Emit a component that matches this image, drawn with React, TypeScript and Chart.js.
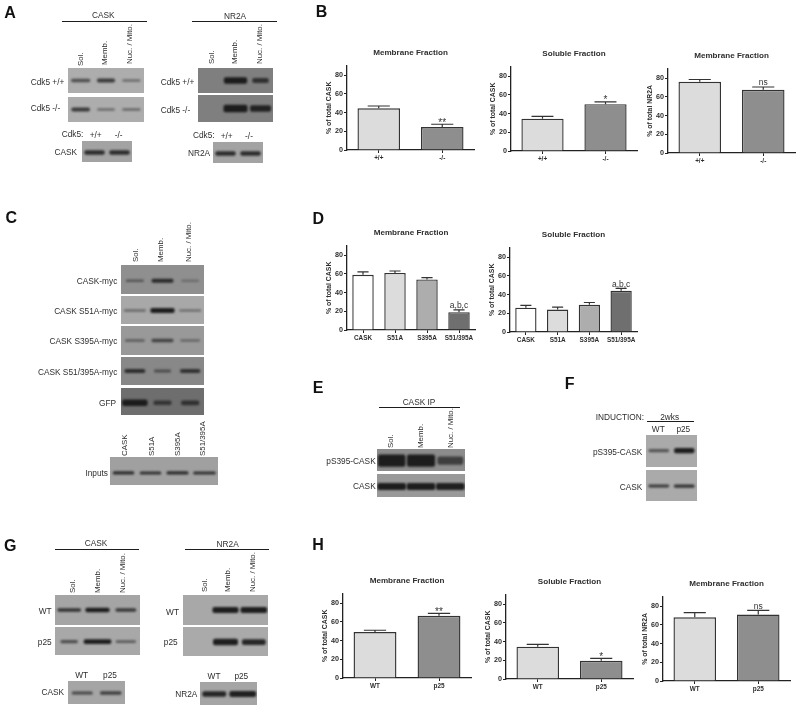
import React, { useEffect, useRef } from "react";
import { Chart, registerables } from "chart.js";

Chart.register(...registerables);

const FONT = '"Liberation Sans", Arial, sans-serif';
const INK = "#2e2e2e";

// ---------- bar chart data ----------
const genotypes = ["+/+", "-/-"];
const inductions = ["WT", "p25"];
const mutants = ["CASK", "S51A", "S395A", "S51/395A"];

const bMemCask = [44.5, 24.5];
const bMemCaskTop = [47, 27.5];
const bMemCaskSig = ["", "**"];
const bSolCask = [34.5, 50];
const bSolCaskTop = [37, 52.5];
const bSolCaskSig = ["", "*"];
const bMemNr = [76, 67.5];
const bMemNrTop = [78.5, 70.5];
const bMemNrSig = ["", "ns"];

const dMem = [59, 61, 54, 19];
const dMemTop = [62, 63, 56, 21.5];
const dMemSig = ["", "", "", "a,b,c"];
const dSol = [26, 24, 29, 44];
const dSolTop = [28.5, 26.5, 31.5, 46.5];
const dSolSig = ["", "", "", "a,b,c"];

const hMemCask = [49, 66.5];
const hMemCaskTop = [51, 69];
const hMemCaskSig = ["", "**"];
const hSolCask = [34.5, 19.5];
const hSolCaskTop = [37, 22];
const hSolCaskSig = ["", "*"];
const hMemNr = [68, 71];
const hMemNrTop = [73, 75.5];
const hMemNrSig = ["", "ns"];

const twoFill = ["#dcdcdc", "#8e8e8e"];
const fourFill = ["#ffffff", "#dcdcdc", "#adadad", "#6f6f6f"];

const panels = [
  { title: "Membrane Fraction", yLabel: "% of total CASK", cats: genotypes, vals: bMemCask, tops: bMemCaskTop, sig: bMemCaskSig, fill: twoFill, x: 347.3, r: 474, top: 65.6, y0: 150 },
  { title: "Soluble Fraction", yLabel: "% of total CASK", cats: genotypes, vals: bSolCask, tops: bSolCaskTop, sig: bSolCaskSig, fill: twoFill, x: 511.3, r: 637.7, top: 67, y0: 151.3 },
  { title: "Membrane Fraction", yLabel: "% of total NR2A", cats: genotypes, vals: bMemNr, tops: bMemNrTop, sig: bMemNrSig, fill: twoFill, x: 668.3, r: 795, top: 68.3, y0: 152.7 },
  { title: "Membrane Fraction", yLabel: "% of total CASK", cats: mutants, vals: dMem, tops: dMemTop, sig: dMemSig, fill: fourFill, x: 347.3, r: 475, top: 246, y0: 330.7 },
  { title: "Soluble Fraction", yLabel: "% of total CASK", cats: mutants, vals: dSol, tops: dSolTop, sig: dSolSig, fill: fourFill, x: 510, r: 637.3, top: 247.3, y0: 332 },
  { title: "Membrane Fraction", yLabel: "% of total CASK", cats: inductions, vals: hMemCask, tops: hMemCaskTop, sig: hMemCaskSig, fill: twoFill, x: 343.3, r: 471, top: 593.6, y0: 678 },
  { title: "Soluble Fraction", yLabel: "% of total CASK", cats: inductions, vals: hSolCask, tops: hSolCaskTop, sig: hSolCaskSig, fill: twoFill, x: 506, r: 633.3, top: 595, y0: 679.3 },
  { title: "Membrane Fraction", yLabel: "% of total NR2A", cats: inductions, vals: hMemNr, tops: hMemNrTop, sig: hMemNrSig, fill: twoFill, x: 663.3, r: 790.3, top: 596.6, y0: 681 },
];

// ---------- western blot band intensities (0 = no band) ----------
const aCaskWt = [0.55, 0.7, 0.35];
const aCaskKo = [0.7, 0.35, 0.38];
const aNrWt = [0, 1, 0.7];
const aNrKo = [0, 1, 0.85];
const aCaskInput = [0.8, 0.8];
const aNrInput = [0.8, 0.8];
const cMyc = [0.4, 0.8, 0.25];
const cS51A = [0.35, 0.95, 0.3];
const cS395A = [0.4, 0.6, 0.3];
const cS51395A = [0.75, 0.45, 0.7];
const cGfp = [1, 0.6, 0.65];
const cInputs = [0.8, 0.75, 0.8, 0.75];
const ePhospho = [1, 1, 0.6];
const eCask = [0.95, 0.95, 0.9];
const fPhospho = [0.5, 0.95];
const fCask = [0.7, 0.75];
const gCaskWt = [0.75, 0.95, 0.7];
const gCaskP25 = [0.55, 1, 0.45];
const gNrWt = [0, 0.95, 0.95];
const gNrP25 = [0, 1, 0.85];
const gCaskInput = [0.6, 0.65];
const gNrInput = [0.85, 0.9];

const blots = [
  { v: aCaskWt, x: 68.3, y: 68, w: 75.7, h: 25, bg: "#adadad", gain: 0.8, span: [0.76, 0.72, 0.72], dy: 0 },
  { v: aCaskKo, x: 68.3, y: 96.7, w: 75.7, h: 24.6, bg: "#adadad", gain: 0.8, span: [0.74, 0.7, 0.72], dy: 0 },
  { v: aNrWt, x: 197.7, y: 68, w: 75.3, h: 25, bg: "#7f7f7f", gain: 1.05, span: [0, 0.93, 0.66], dy: 0 },
  { v: aNrKo, x: 197.7, y: 95, w: 75.3, h: 26.7, bg: "#7f7f7f", gain: 1.15, span: [0, 0.96, 0.84], dy: 0 },
  { v: aCaskInput, x: 81.7, y: 140.7, w: 50.3, h: 21.3, bg: "#a3a3a3", gain: 0.85, span: [0.82, 0.82], dy: 1 },
  { v: aNrInput, x: 213, y: 141.7, w: 50.3, h: 20.6, bg: "#a3a3a3", gain: 0.85, span: [0.82, 0.82], dy: 1 },
  { v: cMyc, x: 120.7, y: 265, w: 82.6, h: 28.7, bg: "#8f8f8f", gain: 0.75, span: [0.66, 0.8, 0.64], dy: 1.3 },
  { v: cS51A, x: 120.7, y: 296, w: 82.6, h: 28, bg: "#a8a8a8", gain: 0.85, span: [0.8, 0.88, 0.8], dy: 0.5 },
  { v: cS395A, x: 120.7, y: 325.7, w: 82.6, h: 29.3, bg: "#999999", gain: 0.8, span: [0.72, 0.8, 0.72], dy: 0 },
  { v: cS51395A, x: 120.7, y: 357, w: 82.6, h: 28.3, bg: "#888888", gain: 0.8, span: [0.76, 0.62, 0.74], dy: 0 },
  { v: cGfp, x: 120.7, y: 388, w: 82.6, h: 26.7, bg: "#6e6e6e", gain: 1, span: [0.92, 0.66, 0.66], dy: 1.3 },
  { v: cInputs, x: 110, y: 457.3, w: 108.3, h: 28.4, bg: "#a0a0a0", gain: 0.6, span: [0.8, 0.8, 0.82, 0.84], dy: 2 },
  { v: ePhospho, x: 377.3, y: 449.3, w: 87.7, h: 22.4, bg: "#8c8c8c", gain: 1.95, span: [0.94, 0.96, 0.88], dy: 0.6 },
  { v: eCask, x: 377.3, y: 474, w: 87.7, h: 22.7, bg: "#999999", gain: 1.15, span: [0.98, 0.98, 0.98], dy: 1 },
  { v: fPhospho, x: 646, y: 435, w: 50.7, h: 32, bg: "#aaaaaa", gain: 0.85, span: [0.82, 0.8], dy: -0.4 },
  { v: fCask, x: 646, y: 469.7, w: 50.7, h: 30.6, bg: "#aaaaaa", gain: 0.6, span: [0.82, 0.82], dy: 0.6 },
  { v: gCaskWt, x: 55.3, y: 594.7, w: 85, h: 29.6, bg: "#a5a5a5", gain: 0.7, span: [0.84, 0.86, 0.74], dy: 0 },
  { v: gCaskP25, x: 55.3, y: 627.3, w: 85, h: 28.4, bg: "#a8a8a8", gain: 0.75, span: [0.62, 0.98, 0.72], dy: 0.6 },
  { v: gNrWt, x: 182.7, y: 594.7, w: 84.6, h: 29.6, bg: "#a8a8a8", gain: 0.95, span: [0, 0.92, 0.94], dy: 0 },
  { v: gNrP25, x: 182.7, y: 627.3, w: 84.6, h: 28.7, bg: "#aaaaaa", gain: 1, span: [0, 0.88, 0.84], dy: 0.6 },
  { v: gCaskInput, x: 68.3, y: 681.3, w: 56.7, h: 22.7, bg: "#a5a5a5", gain: 0.7, span: [0.74, 0.76], dy: 0.5 },
  { v: gNrInput, x: 200, y: 681.7, w: 57, h: 23, bg: "#a5a5a5", gain: 1, span: [0.84, 0.94], dy: 0.5 },
];

// ---------- text ----------
const panelLetters: [string, number, number][] = [
  ["A", 10, 13], ["B", 321.5, 12], ["C", 11.3, 218], ["D", 318.3, 219],
  ["E", 318, 388], ["F", 569.7, 383.5], ["G", 10.3, 545.5], ["H", 318, 544.5],
];
const centered: [string, number, number][] = [
  ["CASK", 103.3, 15], ["NR2A", 235, 16],
  ["+/+", 95.7, 134.5], ["-/-", 118.7, 134.5], ["+/+", 226.7, 135.8], ["-/-", 249, 135.5],
  ["CASK IP", 419, 402], ["2wks", 669.7, 417], ["WT", 658.3, 429], ["p25", 683.3, 429],
  ["CASK", 96, 543], ["NR2A", 227.7, 543.7],
  ["WT", 81.7, 675.3], ["p25", 110, 675.3], ["WT", 214, 676.3], ["p25", 241.3, 676.3],
];
const leftAligned: [string, number, number][] = [
  ["Cdk5 +/+", 30.7, 82], ["Cdk5 -/-", 30.7, 108.3], ["Cdk5 +/+", 160.7, 82], ["Cdk5 -/-", 160.7, 109.7],
  ["Cdk5:", 61.7, 134], ["Cdk5:", 193, 135.3], ["CASK", 54.5, 152], ["NR2A", 188, 152.6],
  ["INDUCTION:", 595.7, 417],
];
const rightAligned: [string, number, number][] = [
  ["CASK-myc", 117.3, 280.7], ["CASK S51A-myc", 117.3, 310.7], ["CASK S395A-myc", 117.3, 341],
  ["CASK S51/395A-myc", 117.3, 372.3], ["GFP", 116, 402.7], ["Inputs", 108, 472.7],
  ["pS395-CASK", 375.7, 461], ["CASK", 375.7, 486.3],
  ["pS395-CASK", 642.3, 451.7], ["CASK", 642.3, 487],
  ["WT", 51.7, 610.7], ["p25", 51.7, 641.7], ["WT", 179, 612], ["p25", 177.7, 641.7],
  ["CASK", 64, 692.3], ["NR2A", 197.3, 694.3],
];
const rotated: [string, number, number][] = [
  ["Sol.", 80.7, 65.5], ["Memb.", 105, 65], ["Nuc. / Mito.", 130, 64],
  ["Sol.", 212, 64], ["Memb.", 235, 64], ["Nuc. / Mito.", 260.3, 64],
  ["Sol.", 136, 261.7], ["Memb.", 161, 261.7], ["Nuc. / Mito.", 189.3, 261.7],
  ["CASK", 125, 456], ["S51A", 151.7, 456], ["S395A", 178, 456], ["S51/395A", 203, 456],
  ["Sol.", 390.7, 448.3], ["Memb.", 420.7, 448.3], ["Nuc. / Mito.", 451, 448.3],
  ["Sol.", 73.3, 592.7], ["Memb.", 97.7, 592.7], ["Nuc. / Mito.", 122.7, 592.7],
  ["Sol.", 204.7, 592], ["Memb.", 228, 592], ["Nuc. / Mito.", 252.7, 592],
];
const rules: [number, number, number][] = [
  [62.3, 146.7, 21.7], [192.3, 277, 21.7], [378.7, 460, 407.3], [647.3, 694, 421.7], [55, 139, 549.7], [185.3, 269.3, 549.7],
];

// ---------- charts ----------
const Y_W = 30;
const X_H = 16;
const TITLE_H = 19.72;

const errorBars = {
  id: "errorBars",
  afterDatasetsDraw(chart: any, _a: any, o: any) {
    const { ctx, scales } = chart;
    const meta = chart.getDatasetMeta(0);
    ctx.save();
    ctx.strokeStyle = "#333";
    ctx.lineWidth = 1.2;
    meta.data.forEach((bar: any, i: number) => {
      const yTop = scales.y.getPixelForValue(o.tops[i]);
      const yVal = scales.y.getPixelForValue(o.vals[i]);
      const half = bar.width * 0.26;
      ctx.beginPath();
      ctx.moveTo(bar.x, yVal);
      ctx.lineTo(bar.x, yTop);
      ctx.moveTo(bar.x - half, yTop);
      ctx.lineTo(bar.x + half, yTop);
      ctx.stroke();
      const s = o.sig[i];
      if (s) {
        const star = s.includes("*");
        ctx.fillStyle = "#333";
        ctx.font = `${star ? 10 : 8.5}px ${FONT}`;
        ctx.textAlign = "center";
        ctx.textBaseline = "alphabetic";
        ctx.fillText(s, bar.x, yTop + (star ? 1.5 : -1.5));
      }
    });
    ctx.restore();
  },
};

function BarPanel({ p }: { p: (typeof panels)[number] }) {
  const ref = useRef<HTMLCanvasElement>(null);
  const width = Y_W + (p.r - p.x) + 4;
  const height = TITLE_H + (p.y0 - p.top) + X_H;
  useEffect(() => {
    const xFont = { family: FONT, size: 6.4, weight: "bold" as const };
    const yFont = { family: FONT, size: 7.2, weight: "bold" as const };
    const chart = new Chart(ref.current!, {
      type: "bar",
      data: {
        labels: p.cats,
        datasets: [{
          data: p.vals,
          backgroundColor: p.fill,
          borderColor: "#333",
          borderWidth: 1.4,
          borderSkipped: "bottom" as any,
          barPercentage: 0.67,
          categoryPercentage: 1,
        }],
      },
      options: {
        animation: false,
        responsive: false,
        layout: { padding: { right: 4 } },
        events: [],
        plugins: {
          legend: { display: false },
          tooltip: { enabled: false },
          title: {
            display: true,
            text: p.title,
            fullSize: false,
            color: INK,
            font: { family: FONT, size: 8.1, weight: "bold", lineHeight: 1.2 },
            padding: { top: 2, bottom: 8 },
          },
          errorBars: { vals: p.vals, tops: p.tops, sig: p.sig },
        } as any,
        scales: {
          x: {
            afterFit: (s: any) => { s.height = X_H; },
            grid: { display: true, offset: false, drawOnChartArea: false, tickLength: 3, color: "#222" },
            border: { color: "#222", width: 1.3 },
            ticks: { color: INK, font: xFont, padding: 1, maxRotation: 0, autoSkip: false },
          },
          y: {
            min: 0,
            max: 90,
            afterFit: (s: any) => { s.width = Y_W; },
            grid: { display: true, drawOnChartArea: false, tickLength: 3, color: "#222" },
            border: { color: "#222", width: 1.3 },
            ticks: { stepSize: 20, includeBounds: false, color: INK, font: yFont, padding: 1 },
            title: {
              display: true,
              text: p.yLabel,
              color: INK,
              font: { family: FONT, size: 6.9, weight: "bold", lineHeight: 1 },
              padding: { top: 9, bottom: 0 },
            },
          },
        },
      },
      plugins: [errorBars],
    } as any);
    return () => chart.destroy();
  }, []);
  return (
    <canvas
      ref={ref}
      width={Math.round(width)}
      height={Math.round(height)}
      style={{ position: "absolute", left: p.x - Y_W, top: p.top - TITLE_H, width: Math.round(width), height: Math.round(height) }}
    />
  );
}

const blotPaint = {
  id: "blotPaint",
  beforeDraw(chart: any, _a: any, o: any) {
    const { ctx, width, height } = chart;
    ctx.save();
    ctx.fillStyle = o.bg;
    ctx.fillRect(0, 0, width, height);
    ctx.restore();
  },
  beforeDatasetsDraw(chart: any) {
    chart.ctx.save();
    chart.ctx.filter = "blur(1.1px)";
  },
  afterDatasetsDraw(chart: any) {
    chart.ctx.restore();
  },
};

function Blot({ b }: { b: (typeof blots)[number] }) {
  const ref = useRef<HTMLCanvasElement>(null);
  useEffect(() => {
    const mid = b.h / 2 + b.dy;
    const datasets = b.v.map((value, lane) => {
      const t = (1.4 + 5 * value) * b.gain;
      return {
        data: b.v.map((_, i) => (i === lane && value > 0 ? [mid - t / 2, mid + t / 2] : null)),
        backgroundColor: `rgba(24,24,24,${Math.min(0.96, 0.12 + 0.92 * value)})`,
        borderWidth: 0,
        borderRadius: 2,
        borderSkipped: false,
        barPercentage: b.span[lane] || 0.5,
        categoryPercentage: 1,
        grouped: false,
      };
    });
    const chart = new Chart(ref.current!, {
      type: "bar",
      data: { labels: b.v.map((_, i) => String(i + 1)), datasets },
      options: {
        animation: false,
        responsive: false,
        events: [],
        layout: { padding: 0 },
        plugins: { legend: { display: false }, tooltip: { enabled: false }, blotPaint: { bg: b.bg } } as any,
        scales: {
          x: { display: false },
          y: { display: false, min: 0, max: b.h, reverse: true },
        },
      },
      plugins: [blotPaint],
    } as any);
    return () => chart.destroy();
  }, []);
  const w = Math.round(b.w);
  const h = Math.round(b.h);
  return <canvas ref={ref} width={w} height={h} style={{ position: "absolute", left: b.x, top: b.y, width: w, height: h }} />;
}

const textBase: React.CSSProperties = {
  position: "absolute",
  fontFamily: FONT,
  fontSize: 8.3,
  lineHeight: 1,
  color: INK,
  whiteSpace: "nowrap",
};

export default function App() {
  return (
    <div style={{ position: "absolute", left: 0, top: 0, width: 800, height: 710, overflow: "hidden", background: "#fff", filter: "blur(0.3px)" }}>
      {blots.map((b, i) => <Blot key={i} b={b} />)}
      {panels.map((p, i) => <BarPanel key={i} p={p} />)}
      {rules.map(([a, c, y], i) => (
        <div key={i} style={{ position: "absolute", left: a, top: y - 0.75, width: c - a, height: 1.5, background: "#1c1c1c" }} />
      ))}
      <div style={{ position: "absolute", left: 0, top: 0, width: 800, height: 710, willChange: "transform", pointerEvents: "none" }}>
        {panelLetters.map(([t, x, y]) => (
          <div key={t} style={{ ...textBase, left: x, top: y, fontSize: 16, fontWeight: 700, color: "#111", transform: "translate(-50%,-50%)" }}>{t}</div>
        ))}
        {centered.map(([t, x, y], i) => (
          <div key={i} style={{ ...textBase, left: x, top: y, transform: "translate(-50%,-50%)" }}>{t}</div>
        ))}
        {leftAligned.map(([t, x, y], i) => (
          <div key={i} style={{ ...textBase, left: x, top: y, transform: "translateY(-50%)" }}>{t}</div>
        ))}
        {rightAligned.map(([t, x, y], i) => (
          <div key={i} style={{ ...textBase, left: x, top: y, transform: "translate(-100%,-50%)" }}>{t}</div>
        ))}
        {rotated.map(([t, x, y], i) => (
          <div key={i} style={{ ...textBase, fontSize: 7.9, left: x, top: y, transformOrigin: "0 0", transform: "rotate(-90deg) translateY(-50%)" }}>{t}</div>
        ))}
      </div>
    </div>
  );
}
